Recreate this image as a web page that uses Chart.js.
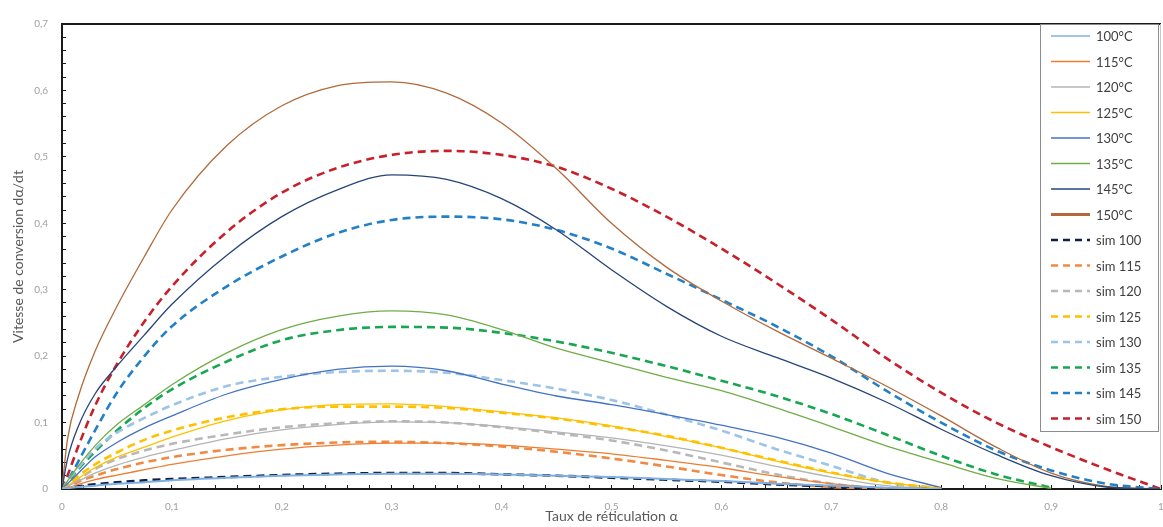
<!DOCTYPE html>
<html>
<head>
<meta charset="utf-8">
<script src="https://cdn.jsdelivr.net/npm/chart.js@4.4.1/dist/chart.umd.min.js"></script>
<style>
  html, body { margin: 0; padding: 0; background: #fff; }
  #contenitore { width: 1163px; height: 527px; }
</style>
</head>
<body>
<div id="contenitore"><canvas id="graficoCinetica"></canvas></div>
<script>
// taux de réticulation (axe x)
const alpha = [0, 0.005, 0.015, 0.03, 0.05, 0.075, 0.1, 0.15, 0.2, 0.25, 0.3, 0.35, 0.4,
  0.45, 0.5, 0.55, 0.6, 0.65, 0.7, 0.75, 0.8, 0.85, 0.9, 0.95, 1];

// courbes expérimentales
const exp100 = [0, 0.001, 0.003, 0.005, 0.008, 0.01, 0.013, 0.017, 0.02, 0.022, 0.023, 0.023, 0.022,
  0.02, 0.018, 0.015, 0.012, 0.008, 0.005, 0.002, 0, null, null, null, null];
const exp115 = [0, 0.002, 0.007, 0.014, 0.021, 0.029, 0.037, 0.05, 0.06, 0.066, 0.069, 0.069, 0.066,
  0.06, 0.053, 0.043, 0.032, 0.019, 0.008, 0.001, null, null, null, null, null];
const exp120 = [0, 0.004, 0.012, 0.024, 0.036, 0.048, 0.058, 0.076, 0.089, 0.097, 0.101, 0.1, 0.094,
  0.086, 0.077, 0.065, 0.051, 0.034, 0.018, 0.005, 0, null, null, null, null];
const exp125 = [0, 0.005, 0.016, 0.032, 0.048, 0.063, 0.078, 0.103, 0.119, 0.127, 0.128, 0.124, 0.116,
  0.107, 0.095, 0.079, 0.062, 0.042, 0.024, 0.01, 0.001, null, null, null, null];
const exp130 = [0, 0.008, 0.024, 0.048, 0.07, 0.092, 0.11, 0.143, 0.165, 0.18, 0.185, 0.178, 0.158,
  0.14, 0.127, 0.112, 0.096, 0.078, 0.054, 0.024, 0.002, null, null, null, null];
const exp135 = [0, 0.012, 0.035, 0.065, 0.097, 0.127, 0.157, 0.205, 0.24, 0.26, 0.268, 0.262, 0.24,
  0.212, 0.19, 0.168, 0.148, 0.122, 0.094, 0.065, 0.04, 0.016, 0.001, null, null];
const exp145 = [0, 0.045, 0.095, 0.143, 0.185, 0.232, 0.278, 0.352, 0.41, 0.45, 0.473, 0.466, 0.437,
  0.39, 0.33, 0.275, 0.23, 0.198, 0.167, 0.131, 0.09, 0.052, 0.02, 0.003, 0];
const exp150 = [0, 0.075, 0.14, 0.207, 0.275, 0.35, 0.42, 0.517, 0.577, 0.607, 0.613, 0.596, 0.551,
  0.482, 0.4, 0.334, 0.283, 0.238, 0.197, 0.155, 0.11, 0.063, 0.024, 0.004, 0];

// courbes simulées
const sim100 = [0, 0.001, 0.004, 0.007, 0.01, 0.013, 0.015, 0.018, 0.021, 0.023, 0.024, 0.024, 0.022,
  0.02, 0.017, 0.014, 0.011, 0.007, 0.004, 0.001, 0, null, null, null, null];
const sim115 = [0, 0.004, 0.011, 0.02, 0.03, 0.04, 0.048, 0.059, 0.066, 0.07, 0.071, 0.069, 0.064,
  0.056, 0.046, 0.034, 0.021, 0.01, 0.003, 0, null, null, null, null, null];
const sim120 = [0, 0.005, 0.015, 0.03, 0.045, 0.058, 0.068, 0.082, 0.093, 0.099, 0.102, 0.1, 0.093,
  0.084, 0.073, 0.058, 0.04, 0.022, 0.008, 0, null, null, null, null, null];
const sim125 = [0, 0.007, 0.02, 0.037, 0.055, 0.074, 0.088, 0.108, 0.12, 0.124, 0.124, 0.122, 0.115,
  0.106, 0.094, 0.08, 0.062, 0.043, 0.025, 0.01, 0.001, null, null, null, null];
const sim130 = [0, 0.012, 0.032, 0.06, 0.085, 0.107, 0.126, 0.155, 0.169, 0.176, 0.178, 0.175, 0.164,
  0.151, 0.134, 0.112, 0.088, 0.06, 0.035, 0.01, 0, null, null, null, null];
const sim135 = [0, 0.01, 0.03, 0.056, 0.088, 0.122, 0.15, 0.192, 0.224, 0.239, 0.244, 0.243, 0.235,
  0.222, 0.205, 0.185, 0.163, 0.14, 0.113, 0.082, 0.05, 0.022, 0.002, null, null];
const sim145 = [0, 0.012, 0.042, 0.088, 0.145, 0.2, 0.245, 0.305, 0.35, 0.385, 0.405, 0.41, 0.406,
  0.39, 0.362, 0.324, 0.285, 0.245, 0.2, 0.148, 0.1, 0.058, 0.028, 0.008, 0];
const sim150 = [0, 0.02, 0.065, 0.125, 0.188, 0.252, 0.305, 0.387, 0.446, 0.483, 0.503, 0.509, 0.503,
  0.485, 0.452, 0.41, 0.362, 0.31, 0.255, 0.197, 0.145, 0.1, 0.063, 0.03, 0];

const etichette = ['100°C', '115°C', '120°C', '125°C', '130°C', '135°C', '145°C', '150°C',
  'sim 100', 'sim 115', 'sim 120', 'sim 125', 'sim 130', 'sim 135', 'sim 145', 'sim 150'];
const serie = [exp100, exp115, exp120, exp125, exp130, exp135, exp145, exp150,
  sim100, sim115, sim120, sim125, sim130, sim135, sim145, sim150];

// stile
const colori = ['#7fb0e0', '#ed7d31', '#b4b4b4', '#ffc000', '#4472c4', '#70ad47', '#264478', '#b06a3b',
  '#0d1f4a', '#f08a42', '#b8b8b8', '#ffc000', '#9dc3e6', '#17a651', '#2180c8', '#c8202a'];

function formattaTick(v) {
  const n = Math.round(v * 50);
  if (n % 5 !== 0) return '';
  if (n === 0) return '0';
  if (n === 50) return '1';
  return (n / 50).toFixed(1).replace('.', ',');
}

const datasets = serie.map((valori, i) => {
  const simulata = i >= 8;
  return {
    label: etichette[i],
    data: alpha.map((a, k) => ({ x: a, y: valori[k] })),
    borderColor: colori[i],
    backgroundColor: colori[i],
    borderWidth: simulata ? 2.6 : (i === 0 ? 2 : 1.3),
    borderDash: simulata ? [8, 5] : [],
    pointRadius: 0,
    cubicInterpolationMode: 'monotone',
    spanGaps: false,
    fill: false
  };
});

const cornice = {
  id: 'cornice',
  afterDraw(chart) {
    const { ctx, chartArea: a } = chart;
    ctx.save();
    ctx.strokeStyle = '#1a1a1a';
    ctx.lineWidth = 2;
    ctx.beginPath();
    ctx.moveTo(a.left - 1, a.top);
    ctx.lineTo(a.right, a.top);
    ctx.stroke();
    ctx.strokeStyle = '#c8c8c8';
    ctx.lineWidth = 1;
    ctx.beginPath();
    ctx.moveTo(a.right - 0.5, a.top);
    ctx.lineTo(a.right - 0.5, a.bottom);
    ctx.stroke();
    ctx.restore();
  }
};

const legenda = {
  id: 'legenda',
  afterDraw(chart) {
    const { ctx, chartArea: a } = chart;
    const x0 = a.right - 121, y0 = a.top, w = 119, h = 408;
    ctx.save();
    ctx.fillStyle = '#fff';
    ctx.fillRect(x0, y0, w, h);
    ctx.strokeStyle = '#8c8c8c';
    ctx.lineWidth = 1;
    ctx.strokeRect(x0 + 0.5, y0 + 0.5, w - 1, h - 1);
    ctx.font = '13px Lato, "Open Sans", sans-serif';
    ctx.textBaseline = 'middle';
    ctx.fillStyle = '#404040';
    chart.data.datasets.forEach((ds, i) => {
      const y = y0 + 12 + i * 25.5;
      ctx.strokeStyle = ds.borderColor;
      ctx.lineWidth = ds.borderDash.length ? 2.6 : (i === 7 ? 3 : 1.6);
      ctx.setLineDash(ds.borderDash.length ? [7, 5] : []);
      ctx.beginPath();
      ctx.moveTo(x0 + 11, y);
      ctx.lineTo(x0 + 50, y);
      ctx.stroke();
      ctx.setLineDash([]);
      ctx.fillText(ds.label, x0 + 56, y + 1);
    });
    ctx.restore();
  }
};

new Chart(document.getElementById('graficoCinetica').getContext('2d'), {
  type: 'line',
  data: { datasets },
  options: {
    responsive: true,
    maintainAspectRatio: false,
    animation: false,
    layout: { padding: { top: 13, right: 2, left: 0, bottom: 0 } },
    plugins: {
      legend: { display: false },
      tooltip: { enabled: false }
    },
    scales: {
      x: {
        type: 'linear',
        min: 0,
        max: 1,
        afterFit: s => { s.height = 38; s.paddingLeft = 0; s.paddingRight = 0; },
        ticks: {
          stepSize: 0.02,
          maxTicksLimit: 100,
          autoSkip: false,
          maxRotation: 0,
          padding: 16,
          color: '#a0a0a0',
          font: { family: 'Lato', size: 10 },
          callback: v => formattaTick(v)
        },
        grid: { drawOnChartArea: false, tickLength: -4, color: '#1a1a1a', tickWidth: 1 },
        border: { color: '#1a1a1a', width: 2 },
        title: {
          display: true,
          text: 'Taux de réticulation α',
          color: '#595959',
          font: { family: 'Lato', size: 14 },
          padding: { top: 0, bottom: 2 }
        }
      },
      y: {
        min: 0,
        max: 0.7,
        afterFit: s => { s.width = 62; },
        ticks: {
          stepSize: 0.02,
          maxTicksLimit: 100,
          autoSkip: false,
          padding: 18,
          color: '#a0a0a0',
          font: { family: 'Lato', size: 10 },
          callback: v => formattaTick(v)
        },
        grid: { drawOnChartArea: false, tickLength: -4, color: '#1a1a1a', tickWidth: 1 },
        border: { color: '#1a1a1a', width: 2 },
        title: {
          display: true,
          text: 'Vitesse de conversion dα/dt',
          color: '#595959',
          font: { family: 'Lato', size: 14 },
          padding: { top: 10, bottom: 0 }
        }
      }
    }
  },
  plugins: [cornice, legenda]
});
</script>
</body>
</html>
